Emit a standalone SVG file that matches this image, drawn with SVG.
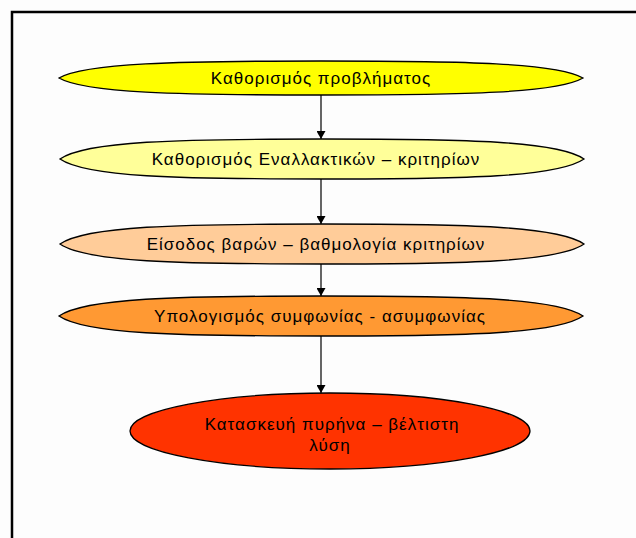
<svg xmlns="http://www.w3.org/2000/svg" width="636" height="538" viewBox="0 0 636 538">
<style>
.n{stroke:#000;stroke-width:1.3}
.t{font-family:"Liberation Sans",Arial,sans-serif;font-size:17px;letter-spacing:1px;fill:#000;text-anchor:middle}
.c{stroke:#000;stroke-width:1.2;fill:none;marker-end:url(#ah)}
</style>
<defs>
<marker id="ah" markerWidth="9" markerHeight="9" refX="8" refY="4.5" orient="auto" markerUnits="userSpaceOnUse">
<path d="M0,0 L8,4.5 L0,9 Z" fill="#000"/>
</marker>
</defs>
<rect x="0" y="0" width="636" height="538" fill="#fdfdfd"/>
<g id="frame" fill="none" stroke="#000" stroke-width="2.5">
<path d="M12,538 L12,12 L636,12"/>
</g>
<g id="connectors">
<line class="c" x1="321" y1="95" x2="321" y2="139"/>
<line class="c" x1="321" y1="179" x2="321" y2="224"/>
<line class="c" x1="321" y1="264" x2="321" y2="296"/>
<line class="c" x1="321" y1="336" x2="321" y2="393"/>
</g>
<g id="n1">
<path class="n" fill="#ffff00" d="M59,78 C85,63 177,61 321,61 C465,61 557,63 583,78 C557,93 465,95 321,95 C177,95 85,93 59,78Z"/>
<text class="t" x="321" y="84">Καθορισμός προβλήματος</text>
</g>
<g id="n2">
<path class="n" fill="#ffff99" d="M60,159 C86,141 178,139 322,139 C466,139 558,141 584,159 C558,177 466,179 322,179 C178,179 86,177 60,159Z"/>
<text class="t" x="316" y="165">Καθορισμός Εναλλακτικών – κριτηρίων</text>
</g>
<g id="n3">
<path class="n" fill="#ffcc99" d="M60,244 C86,226 178,224 322,224 C466,224 558,226 584,244 C558,262 466,264 322,264 C178,264 86,262 60,244Z"/>
<text class="t" x="316" y="250">Είσοδος βαρών – βαθμολογία κριτηρίων</text>
</g>
<g id="n4">
<path class="n" fill="#ff9933" d="M59,316 C85,298 177,296 321,296 C465,296 557,298 583,316 C557,334 465,336 321,336 C177,336 85,334 59,316Z"/>
<text class="t" x="320" y="322">Υπολογισμός συμφωνίας - ασυμφωνίας</text>
</g>
<g id="n5">
<ellipse class="n" fill="#ff3300" cx="330" cy="431" rx="200" ry="38"/>
<text class="t" x="332" y="430">Κατασκευή πυρήνα – βέλτιστη</text>
<text class="t" x="330" y="451">λύση</text>
</g>
</svg>
